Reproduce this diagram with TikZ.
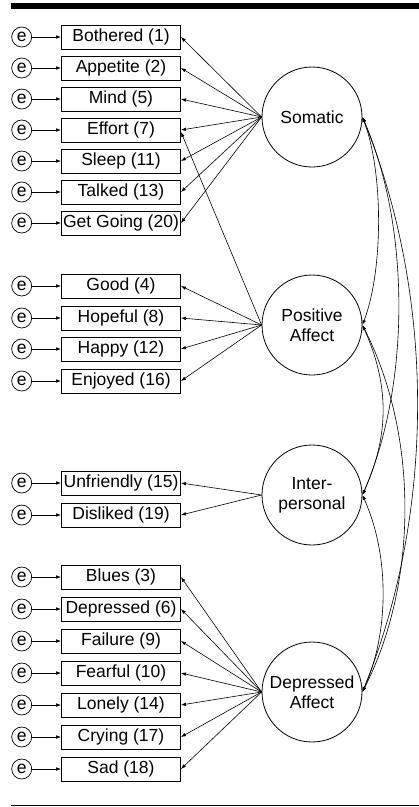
\documentclass[tikz,border=0pt]{standalone}
\usepackage{fontspec}
\setmainfont{Liberation Sans}
\usetikzlibrary{arrows.meta, positioning}

\begin{document}
\begin{tikzpicture}[x=1pt, y=-1pt, font=\fontsize{17.5}{20}\selectfont,
  obsbox/.style={draw, line width=0.9pt, minimum width=119pt, minimum height=24pt, inner sep=0pt},
  latent/.style={draw, circle, line width=0.8pt, minimum size=100pt, inner sep=0pt, align=center},
  errc/.style={draw, circle, line width=0.7pt, minimum size=20pt, inner sep=0pt},
  load/.style={-{Latex[length=5pt, width=3.6pt]}, line width=0.6pt},
  cov/.style={{Latex[length=5pt, width=3.6pt]}-{Latex[length=5pt, width=3.6pt]}, line width=0.6pt}]
  \useasboundingbox (0,0) rectangle (419,807);
  \fill (11,3) rectangle (419,9);
  \draw[line width=1pt] (11,805.5) -- (419,805.5);
  % ============ Somatic ============
  \node[latent] (som) at (312,117) {Somatic};
  \node[obsbox] (s1) at (121,37) {Bothered (1)};
  \node[obsbox] (s2) at (121,68) {Appetite (2)};
  \node[obsbox] (s3) at (121,99) {Mind (5)};
  \node[obsbox] (s4) at (121,130) {Effort (7)};
  \node[obsbox] (s5) at (121,161) {Sleep (11)};
  \node[obsbox] (s6) at (121,192) {Talked (13)};
  \node[obsbox] (s7) at (121,223) {Get Going (20)};
  \node[errc, left=29pt of s1] (e1) {e};
  \node[errc, left=29pt of s2] (e2) {e};
  \node[errc, left=29pt of s3] (e3) {e};
  \node[errc, left=29pt of s4] (e4) {e};
  \node[errc, left=29pt of s5] (e5) {e};
  \node[errc, left=29pt of s6] (e6) {e};
  \node[errc, left=29pt of s7] (e7) {e};
  \draw[load] (e1) -- (s1);
  \draw[load] (e2) -- (s2);
  \draw[load] (e3) -- (s3);
  \draw[load] (e4) -- (s4);
  \draw[load] (e5) -- (s5);
  \draw[load] (e6) -- (s6);
  \draw[load] (e7) -- (s7);
  \draw[load] (som.west) -- (s1.east);
  \draw[load] (som.west) -- (s2.east);
  \draw[load] (som.west) -- (s3.east);
  \draw[load] (som.west) -- (s4.east);
  \draw[load] (som.west) -- (s5.east);
  \draw[load] (som.west) -- (s6.east);
  \draw[load] (som.west) -- (s7.east);
  % ============ Positive Affect ============
  \node[latent] (pos) at (312,325) {Positive\\Affect};
  \node[obsbox] (p1) at (121,286) {Good (4)};
  \node[obsbox] (p2) at (121,318) {Hopeful (8)};
  \node[obsbox] (p3) at (121,349) {Happy (12)};
  \node[obsbox] (p4) at (121,381) {Enjoyed (16)};
  \node[errc, left=29pt of p1] (e8) {e};
  \node[errc, left=29pt of p2] (e9) {e};
  \node[errc, left=29pt of p3] (e10) {e};
  \node[errc, left=29pt of p4] (e11) {e};
  \draw[load] (e8) -- (p1);
  \draw[load] (e9) -- (p2);
  \draw[load] (e10) -- (p3);
  \draw[load] (e11) -- (p4);
  \draw[load] (pos.west) -- (p1.east);
  \draw[load] (pos.west) -- (p2.east);
  \draw[load] (pos.west) -- (p3.east);
  \draw[load] (pos.west) -- (p4.east);
  \draw[load] (pos.west) -- ([yshift=-2pt]s4.east);
  % ============ Interpersonal ============
  \node[latent] (inter) at (312,495) {Inter-\\personal};
  \node[obsbox] (i1) at (121,483) {Unfriendly (15)};
  \node[obsbox] (i2) at (121,515) {Disliked (19)};
  \node[errc, left=29pt of i1] (e12) {e};
  \node[errc, left=29pt of i2] (e13) {e};
  \draw[load] (e12) -- (i1);
  \draw[load] (e13) -- (i2);
  \draw[load] (inter.west) -- (i1.east);
  \draw[load] (inter.west) -- (i2.east);
  % ============ Depressed Affect ============
  \node[latent] (dep) at (312,692) {Depressed\\Affect};
  \node[obsbox] (d1) at (121,577) {Blues (3)};
  \node[obsbox] (d2) at (121,609) {Depressed (6)};
  \node[obsbox] (d3) at (121,641) {Failure (9)};
  \node[obsbox] (d4) at (121,673) {Fearful (10)};
  \node[obsbox] (d5) at (121,705) {Lonely (14)};
  \node[obsbox] (d6) at (121,737) {Crying (17)};
  \node[obsbox] (d7) at (121,769) {Sad (18)};
  \node[errc, left=29pt of d1] (e14) {e};
  \node[errc, left=29pt of d2] (e15) {e};
  \node[errc, left=29pt of d3] (e16) {e};
  \node[errc, left=29pt of d4] (e17) {e};
  \node[errc, left=29pt of d5] (e18) {e};
  \node[errc, left=29pt of d6] (e19) {e};
  \node[errc, left=29pt of d7] (e20) {e};
  \draw[load] (e14) -- (d1);
  \draw[load] (e15) -- (d2);
  \draw[load] (e16) -- (d3);
  \draw[load] (e17) -- (d4);
  \draw[load] (e18) -- (d5);
  \draw[load] (e19) -- (d6);
  \draw[load] (e20) -- (d7);
  \draw[load] (dep.west) -- (d1.east);
  \draw[load] (dep.west) -- (d2.east);
  \draw[load] (dep.west) -- (d3.east);
  \draw[load] (dep.west) -- (d4.east);
  \draw[load] (dep.west) -- (d5.east);
  \draw[load] (dep.west) -- (d6.east);
  \draw[load] (dep.west) -- (d7.east);
  % ============ covariances ============
  \draw[cov] (som.east) .. controls +(21,55) and +(21,-55) .. (pos.east);
  \draw[cov] (som.east) .. controls +(48,110) and +(48,-110) .. (inter.east);
  \draw[cov] (som.east) .. controls +(73,180) and +(73,-180) .. (dep.east);
  \draw[cov] (pos.east) .. controls +(27,60) and +(27,-60) .. (inter.east);
  \draw[cov] (pos.east) .. controls +(56,110) and +(56,-110) .. (dep.east);
  \draw[cov] (inter.east) .. controls +(27,60) and +(27,-60) .. (dep.east);
\end{tikzpicture}
\end{document}
